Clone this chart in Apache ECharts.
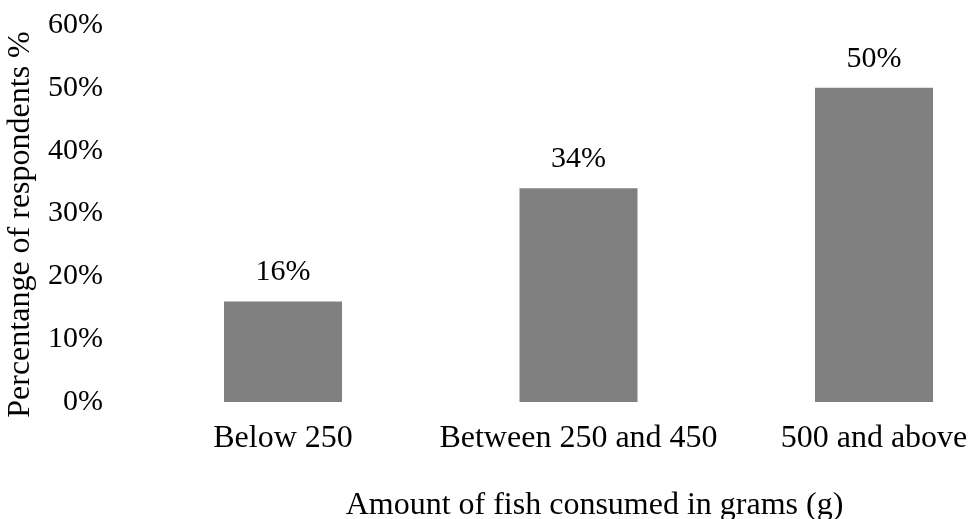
<!DOCTYPE html>
<html>
<head>
<meta charset="utf-8">
<script src="https://cdn.jsdelivr.net/npm/echarts@6/dist/echarts.min.js"></script>
<style>
  html, body { margin: 0; padding: 0; background: #fff; }
  #chart { width: 970px; height: 519px; }
</style>
</head>
<body>
<div id="chart"></div>
<script>
// amount of fish consumed, share of respondents
const categories = ['Below 250', 'Between 250 and 450', '500 and above']
const percentages = [16, 34, 50]
const yTicks = { min: 0, max: 60, interval: 10 }

const font = 'Liberation Serif, Times New Roman, serif'
const chart = echarts.init(document.getElementById('chart'))

// boundaryGap off so the category points can sit on the grid edges
chart.setOption({
  animation: false,
  grid: {
    left: 283,
    top: 25,
    width: 591,
    height: 377,
    outerBoundsMode: 'none'
  },
  xAxis: {
    type: 'category',
    data: categories,
    boundaryGap: false,
    axisLine: { show: false },
    axisTick: { show: false },
    axisLabel: {
      interval: 0,
      color: '#000',
      fontFamily: font,
      fontSize: 32,
      margin: 21
    },
    name: 'Amount of fish consumed in grams (g)',
    nameLocation: 'middle',
    nameGap: 88,
    nameTextStyle: {
      color: '#000',
      fontFamily: font,
      fontSize: 32,
      padding: [0, 0, 0, 32]
    }
  },
  yAxis: {
    type: 'value',
    min: yTicks.min,
    max: yTicks.max,
    interval: yTicks.interval,
    splitLine: { show: false },
    axisLine: { show: false },
    axisTick: { show: false },
    axisLabel: {
      color: '#000',
      fontFamily: font,
      fontSize: 30,
      margin: 180,
      formatter: '{value}%'
    },
    name: 'Percentange of respondents %',
    nameLocation: 'middle',
    nameGap: 246,
    nameTextStyle: {
      color: '#000',
      fontFamily: font,
      fontSize: 32,
      padding: [0, 22, 0, 0]
    }
  },
  series: [{
    type: 'bar',
    data: percentages,
    barWidth: 118,
    itemStyle: { color: '#808080' },
    label: {
      show: true,
      position: 'top',
      distance: 14,
      color: '#000',
      fontFamily: font,
      fontSize: 30,
      formatter: '{c}%'
    }
  }]
})
</script>
</body>
</html>
